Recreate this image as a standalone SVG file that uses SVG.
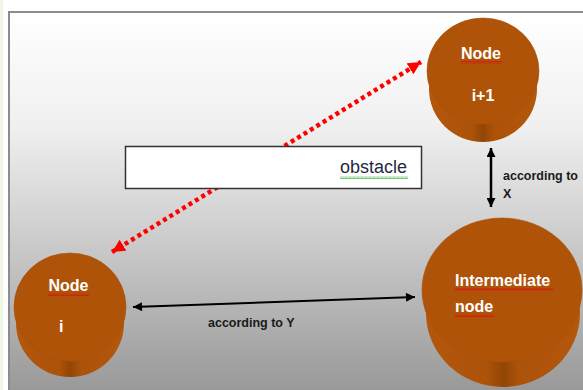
<svg xmlns="http://www.w3.org/2000/svg" width="583" height="390" viewBox="0 0 583 390">
  <defs>
    <linearGradient id="bg" x1="0" y1="0" x2="0" y2="1">
      <stop offset="0" stop-color="#ffffff"/>
      <stop offset="0.3" stop-color="#f0f0f0"/>
      <stop offset="0.55" stop-color="#d2d2d2"/>
      <stop offset="1" stop-color="#999999"/>
    </linearGradient>
    <linearGradient id="side" x1="0" y1="0" x2="1" y2="0">
      <stop offset="0" stop-color="#b3570b"/>
      <stop offset="0.4" stop-color="#ac5209"/>
      <stop offset="0.5" stop-color="#914606"/>
      <stop offset="0.6" stop-color="#ac5209"/>
      <stop offset="1" stop-color="#b3570b"/>
    </linearGradient>
    <pattern id="sqr" width="4" height="3" patternUnits="userSpaceOnUse">
      <path d="M0 2.5 L1 0.5 L2 2.5 L3 0.5 L4 2.5" fill="none" stroke="#e01010" stroke-width="0.7"/>
    </pattern>
    <pattern id="sqg" width="4" height="3" patternUnits="userSpaceOnUse">
      <path d="M0 2.5 L1 0.5 L2 2.5 L3 0.5 L4 2.5" fill="none" stroke="#3cb43c" stroke-width="0.7"/>
    </pattern>
    <marker id="ahRed" viewBox="0 0 12 12" refX="12" refY="6" markerWidth="13" markerHeight="13" markerUnits="userSpaceOnUse" orient="auto-start-reverse">
      <path d="M0 0 L12 6 L0 12 Z" fill="#ff0000"/>
    </marker>
    <marker id="ahBlk" viewBox="0 0 10 10" refX="10" refY="5" markerWidth="10" markerHeight="9" markerUnits="userSpaceOnUse" orient="auto-start-reverse">
      <path d="M0 0 L10 5 L0 10 Z" fill="#000000"/>
    </marker>
    <style>
      .face { fill: #af5309; stroke: #a95008; stroke-width: 0.6; }
      .sideb { fill: url(#side); }
      .lbl { font-family: "Liberation Sans", Arial, sans-serif; font-weight: bold; font-size: 16px; fill: #ffffff; }
      .edge { font-family: "Liberation Sans", Arial, sans-serif; font-weight: bold; font-size: 12.5px; fill: #1a1a1a; }
      .blk { stroke: #000000; fill: none; marker-start: url(#ahBlk); marker-end: url(#ahBlk); }
    </style>
  </defs>

  <!-- background -->
  <rect x="0" y="0" width="583" height="390" fill="#ffffff"/>
  <rect x="0" y="0" width="3" height="390" fill="#eef8e2"/>
  <rect x="9" y="12" width="574" height="378" fill="url(#bg)"/>
  <path d="M9 390 V12 H583" fill="none" stroke="#8c8c8c" stroke-width="2"/>

  <g id="connectors">
    <line x1="112" y1="252" x2="421" y2="62" stroke="#ff0000" stroke-width="4.5" stroke-dasharray="4 3.5" marker-start="url(#ahRed)" marker-end="url(#ahRed)"/>
    <line class="blk" x1="491" y1="148" x2="491" y2="207" stroke-width="2.5"/>
    <line class="blk" x1="133" y1="307" x2="415" y2="297" stroke-width="2"/>
    <text class="edge" x="208" y="327" font-size="13">according to Y</text>
    <text class="edge" x="503" y="180">according to</text>
    <text class="edge" x="503" y="198">X</text>
  </g>

  <g id="obstacle">
    <rect x="125.5" y="146.5" width="296" height="42" fill="#ffffff" stroke="#333333" stroke-width="1.5"/>
    <text x="340" y="173" font-family="Liberation Sans, Arial, sans-serif" font-size="18" fill="#1f2940">obstacle</text>
    <rect x="340" y="176" width="68" height="3" fill="url(#sqg)"/>
  </g>

  <g id="node-i1">
    <ellipse class="sideb" cx="483" cy="89" rx="54" ry="53"/>
    <ellipse class="face" cx="483" cy="71" rx="56" ry="53"/>
    <text class="lbl" x="481" y="59" text-anchor="middle">Node</text>
    <rect x="461" y="61" width="41" height="3" fill="url(#sqr)"/>
    <text class="lbl" x="483" y="101" text-anchor="middle">i+1</text>
  </g>

  <g id="node-i">
    <ellipse class="sideb" cx="70" cy="323" rx="54" ry="54"/>
    <ellipse class="face" cx="70" cy="307" rx="56" ry="54"/>
    <text class="lbl" x="68.5" y="291" text-anchor="middle">Node</text>
    <rect x="48" y="293" width="41" height="3" fill="url(#sqr)"/>
    <text class="lbl" x="59" y="332">i</text>
  </g>

  <g id="node-intermediate">
    <ellipse class="sideb" cx="503" cy="313" rx="77" ry="74"/>
    <ellipse class="face" cx="502" cy="290" rx="80" ry="72"/>
    <text class="lbl" x="455" y="286">Intermediate</text>
    <rect x="455" y="288" width="98" height="3" fill="url(#sqr)"/>
    <text class="lbl" x="455" y="312">node</text>
    <rect x="455" y="314" width="40" height="3" fill="url(#sqr)"/>
  </g>
</svg>
